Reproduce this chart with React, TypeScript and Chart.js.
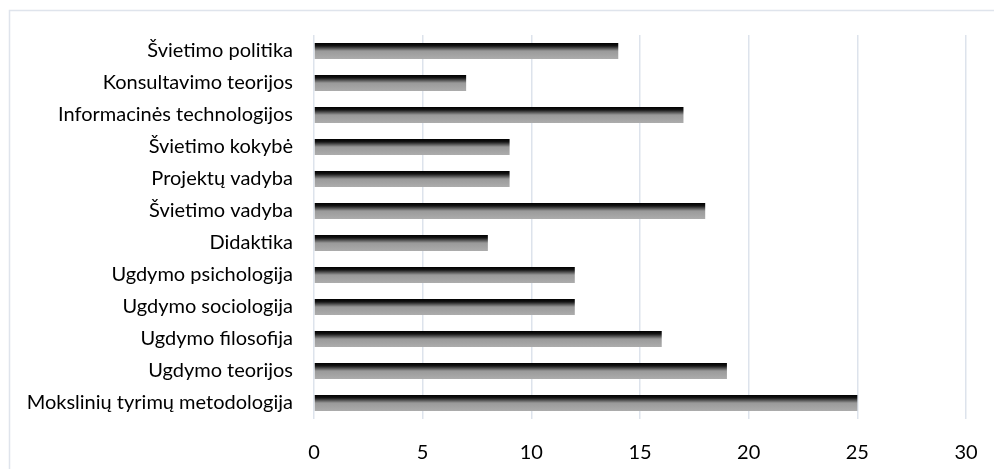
import React, { useEffect, useRef } from "react";
import { Chart, registerables } from "chart.js";

Chart.register(...registerables);

const categories = [
  "Švietimo politika",
  "Konsultavimo teorijos",
  "Informacinės technologijos",
  "Švietimo kokybė",
  "Projektų vadyba",
  "Švietimo vadyba",
  "Didaktika",
  "Ugdymo psichologija",
  "Ugdymo sociologija",
  "Ugdymo filosofija",
  "Ugdymo teorijos",
  "Mokslinių tyrimų metodologija",
];

const values = [14, 7, 17, 9, 9, 18, 8, 12, 12, 16, 19, 25];

const xTicks = [0, 5, 10, 15, 20, 25, 30];

const FONT = "Lato, 'Open Sans', sans-serif";

export default function App() {
  const ref = useRef<HTMLCanvasElement | null>(null);

  useEffect(() => {
    const canvas = ref.current;
    if (!canvas) return;

    const borderPlugin = {
      id: "frame",
      beforeDraw(chart: any) {
        const c = chart.ctx;
        c.save();
        c.strokeStyle = "#dfe4ec";
        c.lineWidth = 1.5;
        c.beginPath();
        c.moveTo(9.5, 469);
        c.lineTo(9.5, 10.5);
        c.lineTo(994, 10.5);
        c.stroke();
        c.restore();
      },
    };

    const chart = new Chart(canvas, {
      type: "bar",
      data: {
        labels: categories,
        datasets: [
          {
            data: values,
            backgroundColor: (ctx: any) => {
              const ch = ctx.chart;
              const ys = ch.scales && ch.scales.y;
              if (!ys || ctx.dataIndex === undefined) return "#888";
              const center = ys.getPixelForTick(ctx.dataIndex);
              const band = ys.height / categories.length;
              const half = band * 0.25;
              if (!isFinite(center) || !isFinite(half) || half <= 0) return "#888";
              const g = ch.ctx.createLinearGradient(0, center - half, 0, center + half);
              g.addColorStop(0, "#000000");
              g.addColorStop(0.18, "#151515");
              g.addColorStop(0.5, "#9a9a9a");
              g.addColorStop(1, "#acacac");
              return g;
            },
            borderWidth: 0,
            categoryPercentage: 1,
            barPercentage: 0.5,
          },
        ],
      },
      options: {
        indexAxis: "y",
        animation: false,
        responsive: false,
        maintainAspectRatio: false,
        devicePixelRatio: 1,
        layout: { padding: { top: 35, right: 28, bottom: 0, left: 0 } },
        plugins: {
          legend: { display: false },
          tooltip: { enabled: false },
        },
        scales: {
          x: {
            min: 0,
            max: 30,
            afterBuildTicks: (scale: any) => {
              scale.ticks = xTicks.map((v) => ({ value: v }));
            },
            afterFit: (scale: any) => {
              scale.height = 50;
              scale.paddingLeft = 0;
              scale.paddingRight = 0;
            },
            grid: {
              color: "#dde3ec",
              lineWidth: 1.5,
              drawTicks: false,
            },
            border: { display: false },
            ticks: {
              color: "#000",
              padding: 22,
              maxRotation: 0,
              minRotation: 0,
              font: { family: FONT, size: 20 },
            },
          },
          y: {
            afterFit: (scale: any) => {
              scale.width = 314;
              scale.paddingTop = 0;
              scale.paddingBottom = 0;
            },
            grid: { display: false, drawTicks: false },
            border: { display: false },
            ticks: {
              color: "#000",
              padding: 21,
              font: { family: FONT, size: 20 },
            },
          },
        },
      },
      plugins: [borderPlugin],
    });

    return () => chart.destroy();
  }, []);

  return (
    <div style={{ position: "fixed", left: 0, top: 0, width: 994, height: 469, background: "#fff" }}>
      <canvas ref={ref} width={994} height={469} style={{ width: 994, height: 469 }} />
    </div>
  );
}
